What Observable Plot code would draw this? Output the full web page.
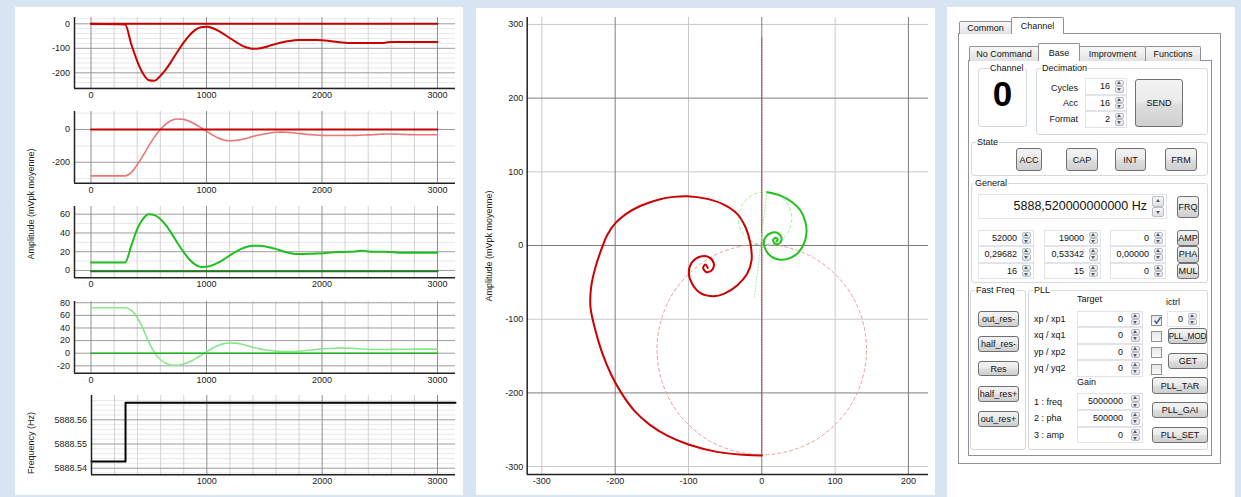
<!DOCTYPE html>
<html>
<head>
<meta charset="utf-8">
<script src="https://cdn.jsdelivr.net/npm/d3@7"></script>
<script src="https://cdn.jsdelivr.net/npm/@observablehq/plot@0.6"></script>
<style>
html,body{margin:0;padding:0}
body{position:relative;width:1241px;height:497px;overflow:hidden;background:#d7e5f2;font-family:"Liberation Sans",Arial,sans-serif;font-size:9px;color:#111}
.a{position:absolute;box-sizing:border-box}
.panel{background:#fff}
.tab{border:1px solid #8e9199;border-bottom:none;background:linear-gradient(#f8f8f8,#e2e2e2);display:flex;align-items:center;justify-content:center;border-radius:2px 2px 0 0;white-space:nowrap;z-index:2}
.tab.sel{background:#fff;z-index:3}
.pane{border:1px solid #8e9199;background:#fff}
.grp{border:1px solid #d3d9df;border-radius:3px}
.gt{background:#fff;padding:0 1px;line-height:12px;white-space:nowrap;z-index:2}
.btn{border:1px solid #707070;border-radius:3px;background:linear-gradient(#f3f3f3 0%,#ebebeb 45%,#dddddd 55%,#cfcfcf 100%);display:flex;align-items:center;justify-content:center;white-space:nowrap;overflow:hidden}
.spin{border:1px solid #e3e4ea;background:#fff;white-space:nowrap}
.lbl{white-space:nowrap;line-height:12px}
.sb{position:absolute;right:2px;top:1px;bottom:1px;width:9px;display:flex;flex-direction:column}
.sb div{flex:1;border:1px solid #b9bcc3;border-radius:2px;background:linear-gradient(#f6f6f6,#dde0e6);position:relative}
.sb div:after{content:"";position:absolute;left:50%;top:50%;margin-left:-2.5px;width:0;height:0;border-left:2.5px solid transparent;border-right:2.5px solid transparent}
.sb .u:after{border-bottom:3px solid #4d5b70;margin-top:-2px}
.sb .d:after{border-top:3px solid #4d5b70;margin-top:-1px}
.chk{border:1px solid #8f8f8f;background:linear-gradient(#e6e6e6,#fafafa)}
</style>
</head>
<body>
<script>
// ---------------- DATA ----------------
const timeMs = [0, 295, 350, 400, 450, 500, 550, 600, 650, 700, 750, 800, 850, 900, 950, 1000,
  1050, 1100, 1150, 1200, 1250, 1300, 1350, 1400, 1450, 1500, 1550, 1600, 1650, 1700, 1750, 1800,
  1850, 1900, 1950, 2000, 2050, 2100, 2150, 2200, 2250, 2300, 2350, 2400, 2450, 2500, 2550, 2600,
  2650, 2700, 2750, 2800, 2850, 2900, 2950, 3000];
// Plot 1 (xp, dark red)
const ampXp = [0, -3, -85, -152, -203, -230, -232, -213, -185, -150, -113, -78, -48, -26, -14, -12,
  -17, -28, -42, -58, -73, -87, -97, -102, -101, -96, -89, -82, -76, -71, -68, -66,
  -66, -66, -66, -67, -69, -72, -75, -77, -78, -78, -78, -78, -78, -78, -77, -74,
  -74, -74, -74, -74, -74, -74, -74, -74];
// Plot 2 (xq, light red)
const ampXq = [-283, -283, -262, -215, -160, -100, -45, 0, 35, 56, 64, 62, 51, 34, 12, -11,
  -33, -52, -64, -69, -67, -61, -53, -43, -34, -27, -21, -17, -16, -17, -20, -24,
  -28, -31, -34, -36, -37, -37, -37, -37, -37, -36, -34, -33, -31, -29, -27, -27,
  -28, -30, -31, -32, -32, -32, -32, -32];
// Plot 3 (yp, green)
const ampYp = [8.5, 8.5, 27, 44, 55, 60, 59, 55, 48, 39, 29, 20, 12, 6.5, 3.8, 3.9,
  5.6, 8.3, 11.9, 15.9, 19.7, 23, 25.3, 26.4, 26.3, 25.8, 24.6, 23, 21, 19.2, 17.9, 17.5,
  17.6, 17.8, 18, 18.2, 18.8, 19.3, 19.6, 19.8, 20, 20.5, 21, 20.3, 20, 20, 20, 19.6,
  19.2, 19, 19, 19, 19, 19, 19, 19];
// Plot 4 (yq, light green)
const ampYq = [72, 72, 68, 57, 39, 18, 1, -10, -16, -19, -19, -17, -14, -9, -3.6, 2.3,
  7.8, 12.2, 15.2, 16.3, 16, 14.5, 12, 9.5, 7.3, 5.5, 4.2, 3.3, 2.8, 2.6, 2.7, 3.2,
  4, 5, 6, 6.8, 7.4, 7.8, 8, 8, 7.8, 7.3, 6.7, 6.2, 6, 6, 6, 6.1,
  6.2, 6.3, 6.3, 6.4, 6.4, 6.5, 6.5, 6.5];
// Set-point traces
const setTime = [0, 3000];
const setXp = [0, 0];
const setXq = [0, 0];
const setYp = [-0.8, -0.8];
const setYq = [0, 0];
// Frequency step
const freqTime = [0, 295, 3156];
const freqHz = [5888.5428, 5888.5670, 5888.5670];

// Nyquist view
const redSpiralX = [0, -24.5, -61, -100, -129, -153, -174, -191, -205, -217.4, -227, -233.7, -232.8, -226.9,
  -217.7, -211, -200, -185, -165, -140, -120, -101.9, -74.5, -51.8, -33.6, -22.2, -15.4, -14, -20,
  -33.6, -51.8, -65.5, -83.6, -95, -99.6, -95, -83.6, -72.3, -65.5, -67.7, -75.4, -80, -77, -73.7];
const redSpiralY = [-285, -284, -280, -270, -258, -243, -224, -201, -176, -146.6, -115, -83.7, -56.6, -29.4,
  -2.3, 14, 30, 43, 54, 62.5, 66, 66.9, 63.3, 55.6, 43, 24.8, 2.3, -20.4, -38.4,
  -54.3, -65.6, -68.8, -64.7, -52, -36.2, -22.6, -14.9, -15.8, -24, -33, -36.2, -30.3, -25.8, -30.3];
const greenSpiralX = [7.4, 25.5, 41.5, 52.8, 59.6, 61, 58.3, 50.5, 39.2, 25.5, 14.2, 6.4, 2.7, 5, 11.9, 20, 25.5, 26.9, 23.2, 17.3, 15.5, 18.7, 21.8, 20];
const greenSpiralY = [72.3, 67.8, 58.8, 47.5, 31.6, 18, 4.5, -9, -16.7, -19.4, -15.8, -7.7, 3.2, 11.3, 16.7, 17.6, 13.6, 6.8, 2.3, 3.2, 7.7, 10.4, 7.7, 5.7];
const redCircleX = [143, 124, 71.5, 0, -71.5, -124, -143, -124, -71.5, 0, 71.5, 124];
const redCircleY = [-141, -69.5, -17, 2, -17, -69.5, -141, -212.5, -265, -284, -265, -212.5];
const greenCircleX = [41, 36, 22.7, 4.5, -13.7, -27, -32, -27, -13.7, 4.5, 22.7, 36];
const greenCircleY = [36.5, 54.7, 68, 73, 68, 54.7, 36.5, 18.3, 5, 0, 5, 18.3];
const redGuideX = [0, 0];
const redGuideY = [-285, 282];
const greenGuideX = [7, -10];
const greenGuideY = [72, -70];

// Ticks / grids
const timeTicks = [0, 1000, 2000, 3000];
const timeTicksFreq = [1000, 2000, 3000];
const timeMajor = [0, 1000, 2000, 3000];
const timeMinor = [200, 400, 600, 800, 1200, 1400, 1600, 1800, 2200, 2400, 2600, 2800];
const nyqTicksX = [-300, -200, -100, 0, 100, 200];
const nyqTicksY = [-300, -200, -100, 0, 100, 200, 300];
const nyqMajor = [-200, 0, 200];
const nyqMinorX = [-300, -100, 100];
const nyqMinorY = [-300, -100, 100, 300];
const freqTicks = [5888.54, 5888.55, 5888.56];
const freqMinor = [5888.538, 5888.542, 5888.544, 5888.546, 5888.548, 5888.552, 5888.554, 5888.556, 5888.558, 5888.562, 5888.564, 5888.566, 5888.568];

// GUI texts
const gridValues = [["52000", "19000", "0"], ["0,29682", "0,53342", "0,00000"], ["16", "15", "0"]];
const pllRows = ["xp / xp1", "xq / xq1", "yp / xp2", "yq / yq2"];
const gainRows = [["1 : freq", "5000000"], ["2 : pha", "500000"], ["3 : amp", "0"]];

// ---------------- HELPERS ----------------
const body = document.body;
function el(cls, x1, y1, x2, y2, html, style) {
  const d = document.createElement("div");
  d.className = "a " + cls;
  d.style.left = x1 + "px"; d.style.top = y1 + "px";
  d.style.width = (x2 - x1) + "px"; d.style.height = (y2 - y1) + "px";
  if (html != null) d.innerHTML = html;
  if (style) Object.assign(d.style, style);
  body.appendChild(d);
  return d;
}
function place(svg, left, top) {
  svg.style.position = "absolute";
  svg.style.left = left + "px";
  svg.style.top = top + "px";
  body.appendChild(svg);
}
const fmt = d => String(d);
const plotStyle = {fontFamily: '"Liberation Sans", Arial, sans-serif', fontSize: "9px", background: "transparent", color: "#222", overflow: "visible"};

// ---------------- PANELS ----------------
el("panel", 15, 7, 463, 495);
el("panel", 476, 8, 935, 495);
el("panel", 947, 7, 1235, 497);

// ---------------- TIME PLOTS ----------------
function timePlot({top, height, mt, mb, ml = 59, xDomain = [-143, 3156], xTicks = timeTicks, yDomain, yTicks, yMajor, yMinor, yFormat = fmt, marks}) {
  const svg = Plot.plot({
    width: 447, height, marginLeft: ml, marginRight: 7, marginTop: mt, marginBottom: mb,
    style: plotStyle,
    x: {domain: xDomain, ticks: xTicks, tickSize: 0, tickPadding: 3, tickFormat: fmt, label: null},
    y: {domain: yDomain, ticks: yTicks, tickSize: 0, tickPadding: 4.5, tickFormat: yFormat, label: null},
    marks: [
      Plot.ruleY(yMinor, {stroke: "#e8e8e8"}),
      Plot.ruleX(timeMinor, {stroke: "#d2d2d2"}),
      Plot.ruleY(yMajor, {stroke: "#9c9c9c"}),
      Plot.ruleX(timeMajor, {stroke: "#8e8e8e"}),
      ...marks,
      Plot.ruleX([xDomain[0]], {stroke: "#222", strokeWidth: 1.5}),
      Plot.ruleY([yDomain[0]], {stroke: "#222", strokeWidth: 1.5})
    ]
  });
  place(svg, 15, top);
}

timePlot({top: 7, height: 95, mt: 10, mb: 14, yDomain: [-264, 25.7],
  yTicks: [0, -100, -200], yMajor: [0, -100, -200],
  yMinor: [-260, -240, -220, -180, -160, -140, -120, -80, -60, -40, -20, 20],
  marks: [
    Plot.line(setXp, {x: setTime, y: setXp, stroke: "#c40000", strokeWidth: 2}),
    Plot.line(ampXp, {x: timeMs, y: ampXp, stroke: "#cc0000", strokeWidth: 2, curve: "monotone-x"})
  ]});

timePlot({top: 102, height: 95, mt: 9, mb: 14.3, yDomain: [-328, 110],
  yTicks: [0, -200], yMajor: [0, -200], yMinor: [-300, -100, 100],
  marks: [
    Plot.line(ampXq, {x: timeMs, y: ampXq, stroke: "#ea7676", strokeWidth: 1.6, curve: "monotone-x"}),
    Plot.line(setXq, {x: setTime, y: setXq, stroke: "#c40000", strokeWidth: 2})
  ]});

timePlot({top: 197, height: 95, mt: 9, mb: 14.7, yDomain: [-7.8, 68.2],
  yTicks: [0, 20, 40, 60], yMajor: [0, 20, 40, 60], yMinor: [10, 30, 50],
  marks: [
    Plot.line(setYp, {x: setTime, y: setYp, stroke: "#1f7a1f", strokeWidth: 2.2}),
    Plot.line(ampYp, {x: timeMs, y: ampYp, stroke: "#1fbf1f", strokeWidth: 2, curve: "monotone-x"})
  ]});

timePlot({top: 292, height: 95, mt: 9, mb: 14.3, yDomain: [-31.7, 82],
  yTicks: [80, 60, 40, 20, 0, -20], yMajor: [80, 60, 40, 20, 0, -20], yMinor: [],
  marks: [
    Plot.line(ampYq, {x: timeMs, y: ampYq, stroke: "#8ae68a", strokeWidth: 1.6, curve: "monotone-x"}),
    Plot.line(setYq, {x: setTime, y: setYq, stroke: "#22b022", strokeWidth: 1.6})
  ]});

timePlot({top: 387, height: 108, mt: 8, mb: 20.7, ml: 76, xDomain: [0, 3156], xTicks: timeTicksFreq,
  yDomain: [5888.53727, 5888.57004], yTicks: freqTicks, yMajor: freqTicks, yMinor: freqMinor,
  yFormat: d => d.toFixed(2),
  marks: [
    Plot.line(freqHz, {x: freqTime, y: freqHz, stroke: "#000", strokeWidth: 2, curve: "step-after"})
  ]});

// ---------------- NYQUIST PLOT ----------------
{
  const xd = [-320, 227.4], yd = [-310.7, 309.4];
  const svg = Plot.plot({
    width: 459, height: 487, marginLeft: 50.7, marginRight: 7, marginTop: 9, marginBottom: 21,
    style: plotStyle,
    x: {domain: xd, ticks: nyqTicksX, tickSize: 0, tickPadding: 3.5, tickFormat: fmt, label: null},
    y: {domain: yd, ticks: nyqTicksY, tickSize: 0, tickPadding: 4, tickFormat: fmt, label: null},
    marks: [
      Plot.ruleX(nyqMinorX, {stroke: "#c9c9c9"}),
      Plot.ruleY(nyqMinorY, {stroke: "#c9c9c9"}),
      Plot.ruleX(nyqMajor, {stroke: "#7d7d7d"}),
      Plot.ruleY(nyqMajor, {stroke: "#7d7d7d"}),
      Plot.line(redCircleX, {x: redCircleX, y: redCircleY, stroke: "#f19a9a", strokeWidth: 1, strokeDasharray: "3,3", curve: "catmull-rom-closed"}),
      Plot.line(greenCircleX, {x: greenCircleX, y: greenCircleY, stroke: "#9cf09c", strokeWidth: 1, strokeDasharray: "3,3", curve: "catmull-rom-closed"}),
      Plot.line(redGuideX, {x: redGuideX, y: redGuideY, stroke: "#c03535", strokeWidth: 1, strokeDasharray: "1,1.5"}),
      Plot.line(greenGuideX, {x: greenGuideX, y: greenGuideY, stroke: "#a6eca6", strokeWidth: 1, strokeDasharray: "1,2"}),
      Plot.line(redSpiralX, {x: redSpiralX, y: redSpiralY, stroke: "#cc0000", strokeWidth: 2, curve: "catmull-rom"}),
      Plot.line(greenSpiralX, {x: greenSpiralX, y: greenSpiralY, stroke: "#1fc21f", strokeWidth: 2, curve: "catmull-rom"}),
      Plot.ruleX([xd[0]], {stroke: "#222", strokeWidth: 1.5}),
      Plot.ruleY([yd[0]], {stroke: "#222", strokeWidth: 1.5})
    ]
  });
  place(svg, 476, 8);
}

// axis titles
function vlabel(text, cx, cy) {
  el("lbl", cx - 100, cy - 6, cx + 100, cy + 6, text, {textAlign: "center", transform: "rotate(-90deg)", color: "#222"});
}
vlabel("Amplitude (mVpk moyenne)", 31, 204);
vlabel("Frequency (Hz)", 31, 443);
vlabel("Amplitude (mVpk moyenne)", 489, 246);

// ---------------- GUI ----------------
function btn(text, x1, y1, x2, y2, style) { return el("btn", x1, y1, x2, y2, text, style); }
function group(title, x1, y1, x2, y2, tx) {
  el("grp", x1, y1, x2, y2);
  const t = el("gt", tx, y1 - 6, tx + 1, y1 + 6, title);
  t.style.width = "auto";
}
function lbl(text, x, yc, style) { const d = el("lbl", x, yc - 6, x + 1, yc + 6, text, style); d.style.width = "auto"; return d; }
function rlbl(text, xr, yc) { return el("lbl", xr - 60, yc - 6, xr, yc + 6, text, {textAlign: "right"}); }
function spin(val, x1, y1, x2, y2, opts = {}) {
  const h = y2 - y1;
  const fs = opts.fs || 9;
  const pr = opts.pr || 16;
  const sbw = opts.sbw || 9;
  return el("spin", x1, y1, x2, y2,
    `<div style="position:absolute;right:${pr}px;top:0;line-height:${h - 2}px;font-size:${fs}px">${val}</div>` +
    `<div class="sb" style="width:${sbw}px"><div class="u"></div><div class="d"></div></div>`);
}
function chk(x, y, checked) {
  el("chk", x, y, x + 11, y + 11, checked ?
    '<svg width="9" height="9" style="position:absolute;left:0.5px;top:0.5px"><path d="M1.5 4.6 L3.6 7.2 L7.6 1.4" stroke="#3a5a9c" stroke-width="1.5" fill="none"/></svg>' : "");
}

// outer tab widget
el("pane", 958, 33, 1221, 464);
el("tab", 959, 21, 1012, 34, "Common");
el("tab sel", 1011, 17, 1064, 34, "Channel");
// inner tab widget
el("pane", 968, 60, 1212, 456);
el("tab", 969, 46, 1039, 61, "No Command");
el("tab sel", 1038, 43, 1080, 61, "Base");
el("tab", 1079, 46, 1146, 61, "Improvment");
el("tab", 1145, 46, 1201, 61, "Functions");

// Channel
group("Channel", 978, 68, 1027, 127, 989);
el("lbl", 978, 77, 1027, 111, "0", {fontSize: "35px", fontWeight: "bold", textAlign: "center", lineHeight: "34px", color: "#000"});

// Decimation
group("Decimation", 1036, 68, 1208, 135, 1041);
rlbl("Cycles", 1078, 88);
rlbl("Acc", 1078, 103);
rlbl("Format", 1078, 119);
spin("16", 1085, 78, 1127, 94.5);
spin("16", 1085, 94.5, 1127, 111);
spin("2", 1085, 111, 1127, 127.5);
btn("SEND", 1135, 79, 1183, 127);

// State
group("State", 971, 142, 1208, 176, 976);
btn("ACC", 1016, 148, 1042, 171);
btn("CAP", 1066, 148, 1098, 171);
btn("INT", 1115, 148, 1146, 171);
btn("FRM", 1165, 148, 1197, 171);

// General
group("General", 971, 183, 1208, 283, 974);
spin("5888,520000000000 Hz", 978, 194, 1167, 219, {fs: 12.5, pr: 19, sbw: 12});
btn("FRQ", 1177, 196, 1199, 218);
const rowsY = [229.5, 246, 262.5, 279];
const colsX = [[978, 1034], [1044, 1101], [1110, 1166]];
gridValues.forEach((row, i) => row.forEach((v, j) => spin(v, colsX[j][0], rowsY[i], colsX[j][1], rowsY[i + 1])));
btn("AMP", 1177, 229.5, 1199, 246);
btn("PHA", 1177, 246, 1199, 262.5);
btn("MUL", 1177, 262.5, 1199, 279);

// Fast Freq
group("Fast Freq", 970, 290, 1026, 450, 975);
btn("out_res-", 978, 311, 1019, 327);
btn("half_res-", 978, 336, 1019, 352);
btn("Res", 978, 361, 1019, 376);
btn("half_res+", 978, 386, 1019, 402);
btn("out_res+", 978, 411, 1019, 427);

// PLL
group("PLL", 1028, 290, 1208, 450, 1033);
lbl("Target", 1077, 299);
lbl("ictrl", 1166, 302);
const targetY = [311, 327, 343.5, 360, 376.5];
pllRows.forEach((name, i) => {
  lbl(name, 1034, (targetY[i] + targetY[i + 1]) / 2);
  spin("0", 1077, targetY[i], 1143, targetY[i + 1], {pr: 19});
  chk(1151, targetY[i] + 3.5, i === 0);
});
spin("0", 1167, 311, 1200, 327);
btn("PLL_MOD", 1168, 328, 1207, 344, {fontSize: "8.2px", letterSpacing: "-0.1px"});
btn("GET", 1168, 353, 1208, 369);
lbl("Gain", 1077, 382);
const gainY = [393, 410, 426.5, 443];
gainRows.forEach(([name, v], i) => {
  lbl(name, 1034, (gainY[i] + gainY[i + 1]) / 2);
  spin(v, 1077, gainY[i], 1143, gainY[i + 1], {pr: 19});
});
btn("PLL_TAR", 1152, 377, 1208, 394);
btn("PLL_GAI", 1152, 402, 1208, 418);
btn("PLL_SET", 1152, 427, 1208, 443);
</script>
</body>
</html>
